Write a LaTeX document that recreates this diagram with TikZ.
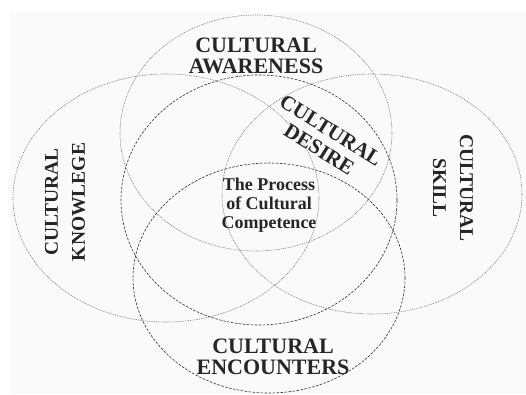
\documentclass[tikz,border=0pt]{standalone}
\usepackage{fontspec}
\setmainfont{Liberation Serif}
\usepackage{tikz}

\begin{document}
\begin{tikzpicture}[x=1pt,y=1pt,semithick,
                    every node/.style={align=center,text=black!85}]
  \tikzstyle{light ring}=[draw=black!55,line width=0.55pt,dash pattern=on 0.9pt off 0.9pt]
  \tikzstyle{dark ring}=[draw=black!80,line width=0.6pt,dash pattern=on 2.6pt off 1.4pt]
  \tikzstyle{big label}=[font=\bfseries\fontsize{22}{21}\selectfont]
  \tikzstyle{side label}=[font=\bfseries\fontsize{19.5}{27}\selectfont]

  \useasboundingbox (0,0) rectangle (526,394);
  \fill[white] (0,0) rectangle (526,394);
  \fill[black!2] (10,0) rectangle (526,382);

  % the five constructs
  \draw[light ring] (256,261) ellipse [x radius=136, y radius=118]; % awareness
  \draw[light ring] (166,196) ellipse [x radius=153, y radius=124]; % knowledge
  \draw[light ring] (372,200) ellipse [x radius=150, y radius=120]; % skill
  \draw[dark ring]  (259,194) ellipse [x radius=138, y radius=125]; % desire
  \draw[dark ring]  (269,116) ellipse [x radius=136, y radius=115]; % encounters

  \node[big label] (aware) at (256,338) {CULTURAL\\AWARENESS};
  \node[side label,rotate=90] (know) at (65,192) {CULTURAL\\KNOWLEGE};
  \node[side label,rotate=-90] (skill) at (453,206) {CULTURAL\\SKILL};
  \node[big label,rotate=-32,font=\bfseries\fontsize{21}{22}\selectfont]
       (desire) at (325,254) {CULTURAL\\DESIRE};
  \node[font=\bfseries\fontsize{18}{19}\selectfont] (process) at (269,189)
       {The Process\\of Cultural\\Competence};
  \node[big label] (encount) at (273,37) {CULTURAL\\ENCOUNTERS};
\end{tikzpicture}
\end{document}
